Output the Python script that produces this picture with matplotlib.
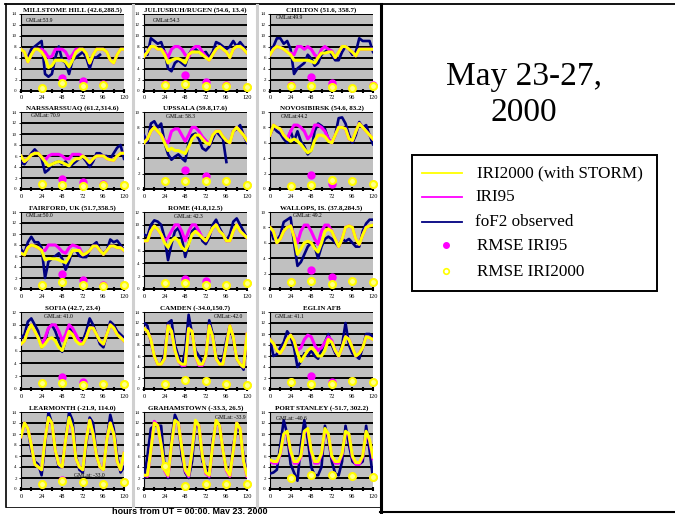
import numpy as np
import matplotlib.pyplot as plt
from matplotlib.patches import Rectangle

nan = np.nan
hours = np.arange(0, 121, 4)
rmse_hours = [24, 48, 72, 96, 120]

# foF2 observed / IRI95 / IRI2000 (MHz), read every 4 hours
mh_obs = [nan, nan, 6.0, 7.5, 8.0, 8.5, 9.0, 3.0, 2.5, 3.0, 6.0, 8.0, 5.5, 5.0, 3.0, 5.5, 6.0, 6.5, 7.0, 6.0, 4.0, 6.0, 6.0, 6.5, nan, nan, nan, nan, nan, nan, nan]
mh_i95 = [7.5, 7.0, 5.2, 6.5, 7.5, 7.5, 7.5, 7.0, 6.0, 6.2, 7.5, 7.5, 7.5, 7.0, 5.8, 6.5, 7.5, 7.5, 7.5, 6.8, 5.0, 6.5, 7.5, 7.5, 7.5, 7.0, 5.5, 5.0, 6.5, 7.5, 7.5]
mh_i2k = [7.5, 7.0, 5.2, 6.5, 7.5, 7.5, 7.0, 6.0, 4.2, 4.5, 5.5, 5.5, 5.5, 5.2, 4.3, 5.5, 7.0, 7.5, 7.5, 6.8, 5.0, 6.5, 7.5, 7.5, 7.5, 7.0, 5.5, 5.0, 6.5, 7.5, 7.5]
mh_rms95 = [0.5, 2.3, 1.7, 1.1, nan]
mh_rms2k = [0.5, 1.3, 0.8, 1.0, nan]

jr_obs = [7.2, 6.5, 9.5, 9.0, 8.5, 8.8, 7.0, 4.0, 3.5, 5.0, 5.5, 5.0, 4.5, 6.5, 7.5, 7.5, 7.0, 6.8, 7.0, 6.0, 7.0, 8.8, 8.5, 8.0, 7.5, 8.0, 9.0, 8.0, 8.8, 8.0, 6.8]
jr_i95 = [6.2, 7.0, 8.0, 8.0, 7.5, 7.5, 7.0, 6.0, 7.5, 8.0, 8.0, 7.5, 6.5, 6.0, 7.5, 8.0, 8.0, 7.0, 6.2, 5.5, 6.5, 7.5, 8.0, 7.5, 7.0, 6.0, 7.5, 8.0, 8.0, 7.5, 6.8]
jr_i2k = [6.2, 7.0, 8.0, 8.0, 7.5, 7.5, 6.5, 5.0, 5.5, 5.8, 5.8, 5.5, 5.0, 6.5, 7.0, 7.0, 7.0, 6.5, 6.0, 5.5, 6.5, 7.5, 8.0, 7.5, 7.0, 6.0, 7.5, 8.0, 8.0, 7.5, 6.8]
jr_rms95 = [1.2, 2.8, 1.5, 1.0, 0.7]
jr_rms2k = [1.0, 1.2, 0.8, 0.8, 0.7]

ch_obs = [7.5, 8.0, 9.5, 9.5, 8.5, 9.0, 7.5, 3.0, 4.0, 4.5, 5.0, 6.5, 5.8, 4.5, 5.0, 6.5, 7.0, 7.5, 6.5, 5.5, 5.5, 7.0, 8.0, 7.5, 6.5, 7.0, 9.5, 9.0, 9.0, 9.0, 7.0]
ch_i95 = [6.5, 7.5, 8.0, 7.8, 7.5, 7.0, 6.8, 6.5, 8.0, 8.0, 7.5, 8.0, 7.5, 6.5, 6.0, 7.5, 8.0, 7.5, 7.2, 6.0, 7.0, 8.0, 8.0, 7.5, 7.0, 6.3, 7.5, 7.5, 7.5, 7.5, 7.5]
ch_i2k = [6.5, 7.5, 8.0, 7.8, 7.5, 7.0, 6.5, 5.5, 5.5, 5.5, 5.5, 5.5, 5.3, 5.0, 6.0, 6.8, 6.8, 7.0, 7.0, 6.0, 7.0, 8.0, 8.0, 7.5, 7.0, 6.3, 7.5, 7.5, 7.5, 7.5, 7.5]
ch_rms95 = [1.0, 2.4, 1.3, 0.5, 1.0]
ch_rms2k = [0.9, 0.8, 0.6, 0.5, 0.8]

na_obs = [4.8, 4.5, 5.5, 6.5, 7.2, 6.5, 5.5, 3.0, 3.5, 4.5, 4.8, 5.0, 4.5, 5.0, 4.0, 4.5, 5.0, 5.5, 5.8, 5.0, 4.0, 5.0, 6.5, 6.5, 6.0, 6.0, 5.5, 6.5, 7.5, 8.0, 5.5]
na_i95 = [6.0, 5.0, 5.5, 6.2, 6.5, 6.5, 5.8, 5.2, 6.0, 6.3, 6.3, 6.3, 6.0, 5.5, 5.5, 6.3, 6.3, 6.3, 6.0, 5.5, 4.8, 5.5, 6.0, 6.0, 6.0, 5.5, 5.3, 5.2, 6.0, 6.5, 6.5]
na_i2k = [6.0, 5.0, 5.5, 6.2, 6.5, 6.5, 5.8, 5.0, 4.2, 4.5, 4.8, 5.0, 4.8, 4.5, 4.2, 5.0, 5.5, 5.5, 6.0, 5.5, 4.8, 5.5, 6.0, 6.0, 6.0, 5.5, 5.3, 5.2, 6.0, 6.5, 6.5]
na_rms95 = [0.9, 1.8, 1.2, 1.0, 0.7]
na_rms2k = [0.9, 0.8, 0.6, 0.8, 0.7]

up_obs = [7.0, 6.0, 8.5, 8.8, 8.0, 8.5, 6.0, 4.5, 3.8, 4.2, 4.5, 4.0, 3.6, 6.0, 7.0, 7.2, 6.5, 5.3, 5.0, 5.5, 6.5, 7.5, 7.0, 6.5, 3.5, nan, 7.5, 7.8, 8.3, 7.0, 6.0]
up_i95 = [6.0, 6.5, 7.5, 8.0, 7.5, 7.0, 6.3, 6.0, 7.5, 7.8, 7.8, 7.0, 6.2, 7.0, 8.0, 8.0, 7.5, 6.8, 6.3, 5.8, 7.0, 7.5, 7.5, 6.8, 6.3, 6.0, 7.5, 8.0, 7.5, 7.0, 6.3]
up_i2k = [6.0, 6.5, 7.5, 8.0, 7.5, 7.0, 6.0, 5.0, 5.3, 5.0, 5.0, 4.8, 4.6, 5.5, 6.5, 7.0, 7.0, 6.5, 6.0, 5.8, 7.0, 7.5, 7.5, 6.8, 6.3, 6.0, 7.5, 8.0, 7.5, 7.0, 6.3]
up_rms95 = [1.0, 2.5, 1.7, 1.1, 0.5]
up_rms2k = [1.0, 1.0, 1.0, 1.0, 0.5]

nv_obs = [7.0, 8.0, 7.5, 7.2, 6.5, 6.0, 7.5, 6.2, 7.5, 6.2, 5.5, 4.5, 5.0, 7.5, 8.5, 8.2, 7.8, 6.5, 6.0, 7.0, 9.2, 9.3, 8.5, 7.0, 6.0, 7.0, 8.7, 8.0, 8.3, 7.0, 5.8]
nv_i95 = [7.0, 8.3, 8.0, 7.8, 7.0, 6.5, 7.5, 8.3, 8.3, 8.0, 7.5, 6.5, 7.0, 8.3, 8.3, 8.0, 7.5, 6.5, 6.0, 7.0, 8.0, 8.0, 7.8, 6.5, 6.3, 7.5, 8.5, 8.0, 7.5, 7.0, 6.5]
nv_i2k = [7.0, 8.3, 8.0, 7.8, 7.0, 6.5, 6.2, 6.5, 6.2, 5.8, 5.2, 4.7, 5.0, 6.3, 7.0, 7.0, 6.8, 6.2, 6.0, 7.0, 8.0, 8.0, 7.8, 6.5, 6.3, 7.5, 8.5, 8.0, 7.5, 7.0, 6.5]
nv_rms95 = [0.4, 1.8, 0.6, 1.0, 0.7]
nv_rms2k = [0.4, 0.5, 1.2, 1.0, 0.7]

ff_obs = [7.2, 6.5, 8.5, 9.5, 8.5, 8.5, 7.5, 2.0, 5.0, 5.5, 6.0, 6.5, 5.5, 3.5, 5.0, 7.0, 7.0, 6.0, 5.8, 5.8, 7.0, 8.0, 8.5, 7.0, 6.5, 7.0, 9.0, 8.5, 8.8, 8.0, 7.0]
ff_i95 = [6.5, 6.2, 7.5, 8.0, 7.8, 7.5, 7.0, 7.0, 8.0, 8.0, 8.0, 7.5, 6.8, 6.5, 7.5, 8.0, 7.8, 7.5, 6.2, 6.5, 7.0, 7.8, 7.8, 7.0, 6.3, 7.0, 7.8, 7.8, 7.5, 7.5, 7.0]
ff_i2k = [6.5, 6.2, 7.5, 8.0, 7.8, 7.5, 7.0, 5.3, 5.5, 5.5, 5.5, 5.3, 5.0, 4.8, 5.8, 7.0, 7.0, 7.0, 6.2, 6.5, 7.0, 7.8, 7.8, 7.0, 6.3, 7.0, 7.8, 7.8, 7.5, 7.5, 7.0]
ff_rms95 = [0.8, 2.8, 1.6, 0.8, 0.8]
ff_rms2k = [0.8, 1.3, 0.8, 0.6, 0.8]

rm_obs = [8.5, 8.2, 10.0, 10.7, 10.5, 10.0, 8.0, 4.5, 7.0, 9.0, 9.5, 8.0, 5.0, 7.0, 9.0, 9.5, 9.0, 7.5, 7.0, 8.0, 10.0, 10.8, 9.5, 8.5, 7.5, 8.5, 10.5, 11.0, 10.0, 9.0, 8.0]
rm_i95 = [7.5, 7.5, 9.0, 9.8, 9.3, 8.5, 7.5, 8.0, 9.0, 10.0, 10.0, 9.0, 7.5, 9.0, 10.0, 10.0, 9.0, 8.0, 7.5, 8.5, 9.5, 10.0, 9.0, 8.5, 7.5, 7.5, 9.0, 10.0, 9.0, 8.5, 8.0]
rm_i2k = [7.5, 7.5, 9.0, 9.8, 9.3, 8.5, 7.2, 6.5, 7.5, 8.0, 7.5, 6.5, 6.0, 7.0, 8.5, 9.0, 8.5, 8.0, 7.5, 8.5, 9.5, 10.0, 9.0, 8.5, 7.5, 7.5, 9.0, 10.0, 9.0, 8.5, 8.0]
rm_rms95 = [1.0, 1.6, 1.2, 0.6, 1.0]
rm_rms2k = [1.0, 1.0, 0.7, 0.6, 1.0]

wl_obs = [8.0, 6.5, 6.3, 7.0, 8.7, 9.0, 9.3, 6.0, 3.0, 3.5, 4.5, 5.5, 6.0, 5.5, 4.0, 5.5, 6.5, 6.8, 6.5, 6.0, 5.5, 6.5, 6.2, 6.5, 6.0, 5.5, 5.5, 7.5, 8.5, 9.0, 9.0]
wl_i95 = [8.0, 7.5, 6.0, 6.5, 7.5, 8.0, 8.2, 7.0, 6.0, 7.5, 8.3, 8.3, 7.5, 6.5, 5.8, 7.5, 8.3, 8.3, 7.5, 6.5, 5.5, 6.5, 8.0, 8.2, 8.0, 6.5, 5.8, 7.0, 8.0, 8.2, 8.3]
wl_i2k = [8.0, 7.5, 6.0, 6.5, 7.5, 8.0, 8.2, 6.8, 4.5, 5.2, 6.0, 6.2, 6.0, 5.3, 4.8, 6.0, 7.5, 7.8, 7.5, 6.5, 5.5, 6.5, 8.0, 8.2, 8.0, 6.5, 5.8, 7.0, 8.0, 8.2, 8.3]
wl_rms95 = [0.9, 2.5, 1.6, 1.1, 0.9]
wl_rms2k = [0.9, 1.1, 0.7, 1.1, 0.9]

sf_obs = [8.0, 8.5, 10.5, 11.0, 10.0, 9.0, 6.5, 7.5, 9.5, 10.0, 9.0, 7.5, 5.8, 7.5, 9.5, 9.0, 8.0, 7.5, 7.5, 9.0, 11.0, 10.0, 8.5, 7.0, 6.5, 8.5, 10.5, 10.0, 9.0, 8.5, 8.0]
sf_i95 = [7.0, 7.5, 9.0, 10.0, 9.0, 8.0, 6.8, 8.0, 9.5, 10.0, 10.0, 9.0, 7.5, 8.5, 10.0, 9.5, 8.5, 7.5, 7.0, 8.0, 9.5, 9.5, 8.5, 7.5, 7.0, 8.5, 10.0, 9.5, 8.5, 8.0, 7.5]
sf_i2k = [7.0, 7.5, 9.0, 10.0, 9.0, 8.0, 6.5, 7.0, 7.8, 8.0, 7.5, 6.5, 6.0, 7.5, 9.0, 8.5, 7.5, 7.0, 7.0, 8.0, 9.5, 9.5, 8.5, 7.5, 7.0, 8.5, 10.0, 9.5, 8.5, 8.0, 7.5]
sf_rms95 = [1.0, 1.8, 1.1, 0.8, 0.8]
sf_rms2k = [1.0, 1.0, 0.6, 0.8, 0.8]

cm_obs = [12.0, 11.5, 8.5, 6.0, 4.5, 4.5, 6.5, 12.0, 12.5, 8.0, 6.0, 4.0, 7.0, 13.5, 10.0, 7.0, 6.0, 5.0, 6.0, 12.5, 10.0, 6.0, 5.0, 5.5, 9.0, 11.5, 9.0, 5.5, 4.5, 3.5, 9.0]
cm_i95 = [11.0, 10.5, 9.0, 6.0, 4.5, 4.5, 5.5, 11.5, 10.5, 7.0, 5.0, 4.3, 4.3, 11.0, 10.5, 6.0, 4.3, 4.3, 6.0, 11.5, 9.5, 5.5, 4.5, 4.5, 8.0, 11.5, 9.5, 5.5, 4.5, 4.0, 10.0]
cm_i2k = [11.0, 10.5, 9.0, 6.0, 4.5, 4.5, 5.5, 11.5, 10.5, 7.0, 5.0, 4.5, 4.5, 11.0, 10.5, 6.0, 4.5, 4.5, 6.0, 11.5, 9.5, 5.5, 4.5, 4.5, 8.0, 11.5, 9.5, 5.5, 4.5, 4.0, 10.0]
cm_rms95 = [1.0, 1.7, 1.5, 1.0, 0.8]
cm_rms2k = [1.0, 1.7, 1.5, 1.0, 0.8]

eg_obs = [9.0, 6.0, 6.3, 7.5, 8.5, 10.5, 9.5, 7.5, 4.0, 5.0, 6.5, 6.0, 7.0, 6.0, 5.5, 7.0, 8.5, 10.0, 8.0, 6.5, 6.0, 8.0, 12.0, 8.0, 6.5, 6.0, 5.5, 7.5, 10.0, 10.0, 9.5]
eg_i95 = [9.0, 8.3, 7.0, 6.5, 7.5, 9.0, 9.8, 8.8, 7.0, 7.5, 9.0, 9.8, 9.5, 8.0, 7.0, 7.5, 8.5, 9.5, 8.8, 7.0, 6.0, 7.5, 9.5, 9.0, 7.5, 6.0, 6.5, 7.5, 9.5, 9.3, 9.0]
eg_i2k = [9.0, 8.3, 7.0, 6.5, 7.5, 9.0, 9.8, 8.8, 6.5, 5.0, 6.0, 7.0, 7.5, 7.0, 6.0, 6.0, 7.0, 9.0, 8.5, 7.0, 6.0, 7.5, 9.5, 9.0, 7.5, 6.0, 6.5, 7.5, 9.5, 9.3, 9.0]
eg_rms95 = [1.2, 2.3, 1.3, 1.4, 1.2]
eg_rms2k = [1.2, 1.0, 0.9, 1.4, 1.2]

lm_obs = [10.0, 12.0, 11.0, 7.0, 5.0, 4.5, 2.5, 8.0, 14.0, 12.0, 7.0, 4.0, 4.0, 9.0, 14.0, 12.5, 6.0, 3.5, 3.0, 8.0, 13.0, 12.0, 6.0, 4.0, 3.5, 9.0, 13.5, 11.0, 6.0, 3.0, 4.0]
lm_i95 = [9.5, 12.0, 11.0, 8.0, 4.5, 4.0, 3.5, 9.0, 12.8, 12.0, 7.0, 4.5, 4.0, 9.0, 12.5, 11.0, 5.5, 4.0, 3.5, 9.0, 12.5, 10.0, 6.0, 4.0, 3.5, 9.0, 12.0, 10.0, 5.0, 3.5, 6.5]
lm_i2k = [9.5, 12.0, 11.0, 8.0, 4.5, 4.0, 3.5, 9.0, 13.0, 12.0, 7.0, 4.5, 4.0, 9.0, 13.0, 11.0, 5.5, 4.0, 3.5, 9.0, 12.5, 10.0, 6.0, 4.0, 3.5, 9.0, 12.0, 10.0, 5.0, 3.5, 6.5]
lm_rms95 = [1.0, 1.6, 1.2, 1.0, 1.2]
lm_rms2k = [1.0, 1.5, 1.2, 1.0, 1.2]

gr_obs = [2.0, 6.0, 11.0, 11.5, 11.5, 11.5, 4.0, 2.0, 9.0, 13.5, 12.0, 6.0, 3.0, 2.0, 5.0, 12.0, 11.0, 5.0, 4.0, 2.0, 9.0, 12.0, 11.5, 7.0, 3.5, 2.5, 8.0, 11.0, 10.5, 6.0, 2.5]
gr_i95 = [2.5, 2.3, 7.0, 12.3, 11.5, 8.0, 3.3, 2.3, 8.0, 12.3, 12.0, 7.5, 3.3, 2.3, 7.0, 12.3, 11.5, 6.0, 2.8, 2.3, 8.0, 12.3, 11.5, 7.0, 3.3, 2.3, 7.0, 12.0, 11.0, 5.0, 2.3]
gr_i2k = [2.5, 2.5, 7.0, 12.0, 11.5, 8.0, 3.5, 2.5, 8.0, 12.5, 12.0, 7.5, 3.5, 2.5, 7.0, 12.5, 11.5, 6.0, 3.0, 2.5, 8.0, 12.5, 11.5, 7.0, 3.5, 2.5, 7.0, 12.0, 11.0, 5.0, 2.5]
gr_rms95 = [4.2, 0.6, 0.9, 1.0, 1.0]
gr_rms2k = [4.2, 0.6, 0.9, 1.0, 1.0]

ps_obs = [2.8, 3.0, 3.5, 8.0, 12.5, 10.0, 4.5, 3.0, 1.5, 8.0, 12.5, 9.0, 4.0, 2.5, 2.5, 4.0, 11.5, 9.0, 5.0, 2.8, 2.5, 5.0, 11.5, 8.0, 5.0, 4.5, 4.5, 5.0, 11.5, 7.0, 2.0]
ps_i95 = [5.0, 4.7, 4.7, 6.3, 9.8, 10.3, 6.8, 4.7, 4.7, 5.8, 10.3, 10.8, 6.8, 4.7, 4.7, 6.3, 10.8, 9.8, 5.8, 4.7, 4.7, 6.3, 10.3, 9.8, 5.8, 4.5, 4.5, 5.8, 10.3, 8.8, 5.5]
ps_i2k = [5.3, 5.0, 5.0, 6.5, 10.0, 10.5, 7.0, 5.0, 5.0, 6.0, 10.5, 11.0, 7.0, 5.0, 5.0, 6.5, 11.0, 10.0, 6.0, 5.0, 5.0, 6.5, 10.5, 10.0, 6.0, 4.8, 4.8, 6.0, 10.5, 9.0, 5.8]
ps_rms95 = [2.0, 2.5, 2.5, 2.3, 2.2]
ps_rms2k = [2.0, 2.5, 2.5, 2.3, 2.2]

titles = ['MILLSTOME HILL (42.6,288.5)', 'JULIUSRUH/RUGEN (54.6, 13.4)', 'CHILTON (51.6, 358.7)',
          'NARSSARSSUAQ (61.2,314.6)', 'UPSSALA (59.8,17.6)', 'NOVOSIBIRSK (54.6, 83.2)',
          'FAIRFORD, UK (51.7,358.5)', 'ROME (41.8,12.5)', 'WALLOPS, IS. (37.8,284.5)',
          'SOFIA (42.7, 23.4)', 'CAMDEN (-34.0,150.7)', 'EGLIN AFB',
          'LEARMONTH (-21.9, 114.0)', 'GRAHAMSTOWN (-33.3, 26.5)', 'PORT STANLEY (-51.7, 302.2)']
gmlat = ['GMLat:53.9', 'GMLat:54.3', 'GMLat:49.9', 'GMLat: 70.9', 'GMLat: 58.3', 'GMLat:44.2',
         'GMLat:50.0', 'GMLat: 42.3', 'GMLat: 49.2', 'GMLat: 41.0', 'GMLat:-42.0', 'GMLat: 41.1',
         'GMLat: -33.0', 'GMLat: -33.9', 'GMLat: -40.6']
ymax = [14, 14, 14, 14, 10, 10, 14, 12, 10, 12, 14, 14, 14, 14, 14]

obs = [mh_obs, jr_obs, ch_obs, na_obs, up_obs, nv_obs, ff_obs, rm_obs, wl_obs, sf_obs, cm_obs, eg_obs, lm_obs, gr_obs, ps_obs]
i95 = [mh_i95, jr_i95, ch_i95, na_i95, up_i95, nv_i95, ff_i95, rm_i95, wl_i95, sf_i95, cm_i95, eg_i95, lm_i95, gr_i95, ps_i95]
i2k = [mh_i2k, jr_i2k, ch_i2k, na_i2k, up_i2k, nv_i2k, ff_i2k, rm_i2k, wl_i2k, sf_i2k, cm_i2k, eg_i2k, lm_i2k, gr_i2k, ps_i2k]
rms95 = [mh_rms95, jr_rms95, ch_rms95, na_rms95, up_rms95, nv_rms95, ff_rms95, rm_rms95, wl_rms95, sf_rms95, cm_rms95, eg_rms95, lm_rms95, gr_rms95, ps_rms95]
rms2k = [mh_rms2k, jr_rms2k, ch_rms2k, na_rms2k, up_rms2k, nv_rms2k, ff_rms2k, rm_rms2k, wl_rms2k, sf_rms2k, cm_rms2k, eg_rms2k, lm_rms2k, gr_rms2k, ps_rms2k]

# where the GMLat note sits in each panel (hour, fraction of ymax)
gm_pos = [(6, 0.91), (10, 0.91), (7, 0.95), (12, 0.95), (26, 0.94), (13, 0.94), (6, 0.95), (35, 0.94),
          (27, 0.95), (27, 0.94), (81, 0.94), (6, 0.94), (62, 0.18), (83, 0.93), (7, 0.91)]

SERIF = 'Liberation Serif'
GREY = '#c0c0c0'
NAVY = '#000080'
MAG = '#ff00ff'
YEL = '#ffff00'

W, H = 675, 514
fig = plt.figure(figsize=(W / 100, H / 100), dpi=100)

bg = fig.add_axes([0, 0, 1, 1])
bg.set_xlim(0, W)
bg.set_ylim(H, 0)
bg.axis('off')

# frame and separators
bg.plot([5, 675], [4, 4], color='black', lw=1.3)
bg.plot([5.5, 5.5], [4, 507], color='black', lw=1.2)
bg.plot([5.5, 380], [507, 507], color='black', lw=0.6)
for xs in (133, 257):
    bg.plot([xs, xs], [5, 506], color='#d0d0d0', lw=2.2)
bg.plot([380.5, 380.5], [4, 514], color='black', lw=2.2)
bg.plot([380, 675], [511.5, 511.5], color='black', lw=1.5)

bg.text(190, 511, 'hours from UT = 00:00, May 23, 2000', ha='center', va='center',
        fontsize=6.5, fontweight='bold', family='Liberation Sans')

bg.text(524, 95, 'May 23-27,\n2000', ha='center', va='center', fontsize=24,
        family=SERIF, linespacing=1.22)

# legend box
bg.add_patch(Rectangle((412, 155), 245, 136, fill=True, facecolor='white',
                       edgecolor='black', lw=1.4))
leg_font = dict(fontsize=12.3, family=SERIF, va='center', ha='left')
bg.plot([422, 462], [173, 173], color=YEL, lw=1.3)
bg.text(477, 173, 'IRI2000 (with STORM)', **leg_font)
bg.plot([422, 462], [197, 197], color=MAG, lw=1.3)
bg.text(475, 197, 'IRI95', **leg_font)
bg.plot([422, 462], [222, 222], color=NAVY, lw=1.3)
bg.text(475, 222, 'foF2 observed', **leg_font)
bg.plot([446], [245], 'o', color=MAG, ms=4)
bg.text(477, 246, 'RMSE IRI95', **leg_font)
bg.plot([446], [271], 'o', mfc='white', mec=YEL, mew=1.2, ms=4)
bg.text(477, 272, 'RMSE IRI2000', **leg_font)

col_left = [21, 144, 270]
row_top = [13.5, 112, 212, 312, 412]
pw, ph = 103, 77

for k in range(15):
    r, c = divmod(k, 3)
    x0, y0 = col_left[c], row_top[r]
    ax = fig.add_axes([x0 / W, 1 - (y0 + ph) / H, pw / W, ph / H])
    ax.set_facecolor(GREY)
    top = ymax[k]
    ax.set_xlim(0, 120)
    ax.set_ylim(0, top)
    for g in range(2, top + 1, 2):
        ax.axhline(g, color='black', lw=1.4, zorder=1)

    ax.plot(hours, obs[k], color=NAVY, lw=1.9, zorder=3)
    ax.plot(hours, i95[k], color=MAG, lw=2.2, zorder=4)
    ax.plot(hours, i2k[k], color=YEL, lw=2.2, zorder=5)
    ax.plot(rmse_hours, rms95[k], 'o', color=MAG, ms=5, zorder=6, clip_on=False)
    ax.plot(rmse_hours, rms2k[k], 'o', mfc='#ffff90', mec=YEL, mew=1.5, ms=5,
            zorder=7, clip_on=False)

    gx, gy = gm_pos[k]
    ax.text(gx, gy * top, gmlat[k], fontsize=4.0, family=SERIF, va='center', ha='left', zorder=8)
    ax.set_title(titles[k], fontsize=5.0, family=SERIF, fontweight='bold', pad=1.5)

    for s in ('top', 'right'):
        ax.spines[s].set_visible(False)
    ax.spines['left'].set_linewidth(0.8)
    ax.spines['bottom'].set_linewidth(1.4)
    ax.set_xticks(range(0, 121, 12))
    ax.set_xticklabels([str(v) if v % 24 == 0 else '' for v in range(0, 121, 12)])
    ax.set_yticks(range(0, top + 1, 2))
    ax.tick_params(axis='x', direction='inout', length=3, width=1.5, pad=2, labelsize=4.6)
    ax.tick_params(axis='y', direction='out', length=1.5, width=0.6, pad=1.5, labelsize=3.6)
    for lab in ax.get_xticklabels() + ax.get_yticklabels():
        lab.set_family(SERIF)

fig.savefig('out.png', dpi=100)
